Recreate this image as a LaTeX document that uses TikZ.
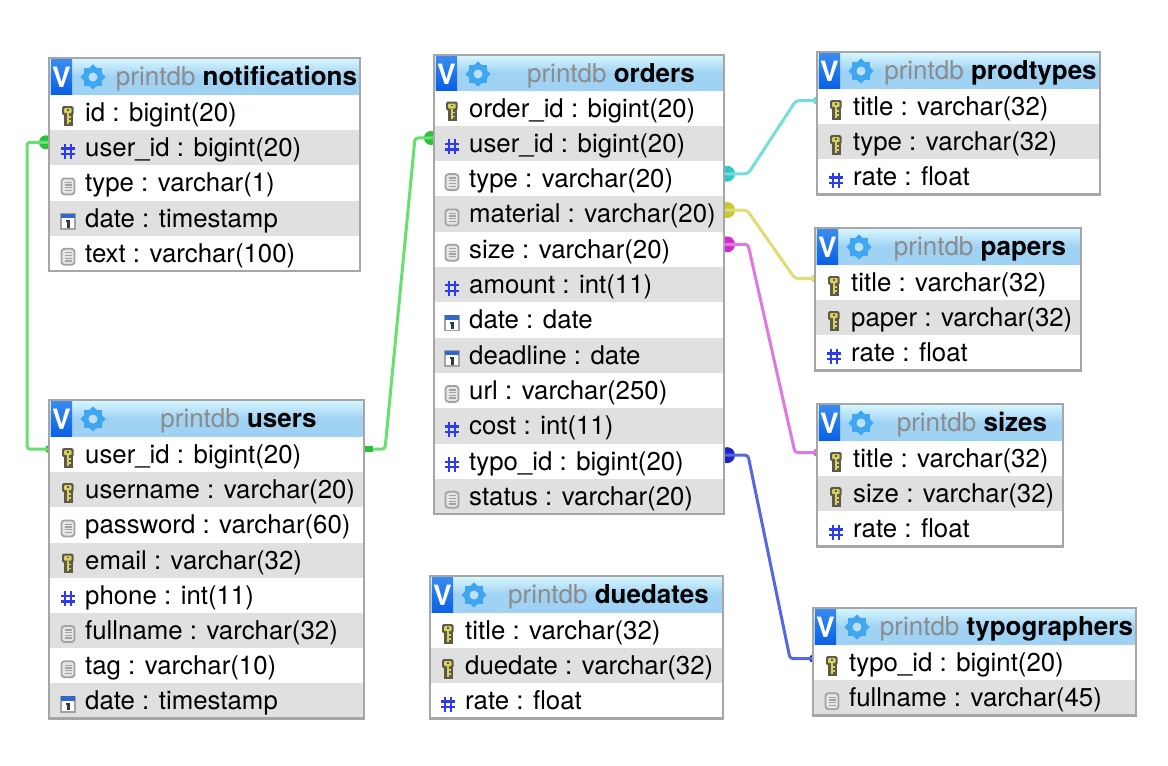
\documentclass[tikz,border=0pt]{standalone}
\usepackage{fontspec}
\setmainfont{TeX Gyre Heros}
\usetikzlibrary{backgrounds,shapes.geometric}
\definecolor{bordergray}{HTML}{A6A6A6}
\definecolor{rowgray}{HTML}{E0E0E0}
\definecolor{titlegray}{HTML}{8C8C8C}
\definecolor{headtop}{HTML}{D8F8FF}
\definecolor{headbot}{HTML}{A0D2F4}
\definecolor{badgetop}{HTML}{3C8CF0}
\definecolor{badgebot}{HTML}{0860E4}
\definecolor{gearblue}{HTML}{3FA6F2}
\definecolor{keydark}{HTML}{5E5A48}
\definecolor{keygold}{HTML}{D8D060}
\definecolor{hashblue}{HTML}{2A3CEE}
\definecolor{docline}{HTML}{A2A2A2}
\definecolor{docfill}{HTML}{E6E6E6}
\definecolor{datebar}{HTML}{2F68C8}
\definecolor{dateone}{HTML}{30384A}
\definecolor{lgreen}{HTML}{66E06E}\definecolor{dgreen}{HTML}{2CBE3C}
\definecolor{lcyan}{HTML}{74DEDE}\definecolor{dcyan}{HTML}{2CC8C8}
\definecolor{lyellow}{HTML}{DEDE74}\definecolor{dyellow}{HTML}{C8C82C}
\definecolor{lmag}{HTML}{E276E2}\definecolor{dmag}{HTML}{D02CD0}
\definecolor{lblue}{HTML}{5468E2}\definecolor{dblue}{HTML}{1C24C4}
\tikzset{
  x=1pt,y=-1pt,
  rowtext/.style={anchor=base west,inner sep=0pt,font=\fontsize{25.8}{26}\selectfont,text=black},
  titletext/.style={anchor=base,inner sep=0pt,font=\fontsize{26}{26}\selectfont},
  rowbox/.style={inner sep=0pt,outer sep=0pt,anchor=north west},
  link/.style={line width=3pt,rounded corners=3pt,line join=round},
  pics/iconkey/.style={code={
    \fill[keydark,rounded corners=1.5pt] (-6,-10) rectangle (5.5,-1);
    \fill[keydark] (-4,-2) rectangle (5,9.5);
    \fill[keygold,rounded corners=1pt] (-4,-8) rectangle (3.5,-3);
    \fill[keydark] (-1.5,-7) rectangle (1.2,-5.5);
    \fill[keygold] (-1.5,-3) rectangle (1.2,7.5);
    \fill[keygold] (1.2,0) rectangle (3.2,1.6);
    \fill[keygold] (1.2,4) rectangle (3.2,5.6);
  }},
  pics/iconhash/.style={code={
    \draw[hashblue,line width=2.3pt]
      (-2.8,-7.5) -- (-2.8,7.5) (3.2,-7.5) -- (3.2,7.5)
      (-7,-2.8) -- (7,-2.8) (-7,2.8) -- (7,2.8);
  }},
  pics/icondoc/.style={code={
    \draw[docline,fill=docfill,line width=1.8pt,rounded corners=3pt] (-6.5,-8) rectangle (6.5,8);
    \draw[docline,line width=1.3pt] (-3.5,-4) -- (3.5,-4) (-3.5,-1.3) -- (3.5,-1.3) (-3.5,1.4) -- (3.5,1.4) (-3.5,4.1) -- (3.5,4.1);
  }},
  pics/icondate/.style={code={
    \draw[docline,fill=white,line width=1.3pt] (-7,-7.5) rectangle (7,7.5);
    \fill[datebar] (-7,-8) rectangle (7,-3.5);
    \fill[dateone] (-0.8,-1.5) rectangle (1.6,6);
    \fill[dateone] (-2.4,-1.5) rectangle (0,0.4);
  }},
}
\newcommand\hh{37}
\newcommand\rh{35.2}
\newcommand\rx{0}
% name, x, y, width, title, rows
\newcommand\dbtable[6]{%
  \pgfmathsetmacro\tx{#2}\pgfmathsetmacro\ty{#3}\pgfmathsetmacro\tw{#4}%
  \node[rowbox,minimum width=\tw pt,minimum height=\hh pt,top color=headtop,bottom color=headbot,middle color=headbot,shading angle=0] (#1-head) at (\tx,\ty) {};
  \node[rowbox,minimum width=21pt,minimum height=\hh pt,top color=badgetop,bottom color=badgebot] (#1-badge) at (\tx+2,\ty) {};
  \node[inner sep=0pt,text=white,font=\fontsize{28}{28}\bfseries\selectfont] (#1-v) at (\tx+12.5,\ty+19.5) {V};
  \node[star,star points=8,star point ratio=1.28,minimum size=25pt,inner sep=0pt,fill=gearblue] (#1-gear) at (\tx+44,\ty+19) {};
  \node[circle,minimum size=9pt,inner sep=0pt,fill=headbot!70!white] (#1-hole) at (\tx+44,\ty+19) {};
  \node[titletext] (#1-title) at (\tx+\tw/2+32,\ty+27) {\textcolor{titlegray}{printdb} \textbf{#5}};
  \foreach \ic/\txt [count=\n] in {#6} {
    \pgfmathsetmacro\ry{\ty+\hh+(\n-1)*\rh}
    \pgfmathparse{int(mod(\n,2))}
    \ifnum\pgfmathresult=0 \def\rc{rowgray}\else \def\rc{white}\fi
    \node[rowbox,minimum width=\tw pt,minimum height=\rh pt,fill=\rc] (#1-\n) at (\tx,\ry) {};
    \pic at (\tx+19+\rx,\ry+21) {icon\ic};
    \node[rowtext] (#1-\n-text) at (\tx+36+\rx,\ry+26.5) {\txt};
    \xdef\lastrow{\n}
  }
  \draw[bordergray,line width=2.4pt] (#1-head.north west) rectangle (#1-\lastrow.south east);
}
\begin{document}
\begin{tikzpicture}
\useasboundingbox (0,0) rectangle (1168,766);

\dbtable{notifications}{49}{58}{311}{notifications}{key/id : bigint(20),hash/user\_id : bigint(20),doc/type : varchar(1),date/date : timestamp,doc/text : varchar(100)}
\dbtable{users}{49}{400}{315}{users}{key/user\_id : bigint(20),key/username : varchar(20),doc/password : varchar(60),key/email : varchar(32),hash/phone : int(11),doc/fullname : varchar(32),doc/tag : varchar(10),date/date : timestamp}
\renewcommand\hh{35.5}\renewcommand\rh{35.3}\renewcommand\rx{-1}
\dbtable{orders}{434}{55}{290}{orders}{key/order\_id : bigint(20),hash/user\_id : bigint(20),doc/type : varchar(20),doc/material : varchar(20),doc/size : varchar(20),hash/amount : int(11),date/date : date,date/deadline : date,doc/url : varchar(250),hash/cost : int(11),hash/typo\_id : bigint(20),doc/status : varchar(20)}
\renewcommand\hh{37}\renewcommand\rh{35.2}\renewcommand\rx{0}
\dbtable{prodtypes}{817}{52}{283}{prodtypes}{key/title : varchar(32),key/type : varchar(32),hash/rate : float}
\dbtable{papers}{815}{228}{266}{papers}{key/title : varchar(32),key/paper : varchar(32),hash/rate : float}
\dbtable{sizes}{817}{404}{246}{sizes}{key/title : varchar(32),key/size : varchar(32),hash/rate : float}
\renewcommand\rx{-1}
\dbtable{duedates}{430}{576}{293}{duedates}{key/title : varchar(32),key/duedate : varchar(32),hash/rate : float}
\renewcommand\rx{0}
\dbtable{typographers}{813}{608}{323}{typographers}{key/typo\_id : bigint(20),doc/fullname : varchar(45)}

\begin{scope}[on background layer]
  \fill[white] (0,0) rectangle (1168,766);
  % dots at ends (partly hidden by the tables)
  \fill[dgreen] ([xshift=-3pt,yshift=5.5pt]notifications-2.west) circle (7);
  \fill[dgreen] ([xshift=-3pt,yshift=5.5pt]orders-2.west) circle (7);
  \fill[dgreen] ([yshift=5.5pt]users-1.west) circle (4);
  \fill[dgreen] ([xshift=1pt,yshift=8.5pt]users-1.east) rectangle ++(8,6);
  \fill[dcyan] ([xshift=3pt,yshift=5pt]orders-3.east) circle (8);
  \fill[dyellow] ([xshift=3pt,yshift=4pt]orders-4.east) circle (8);
  \fill[dmag] ([xshift=3pt,yshift=5pt]orders-5.east) circle (8);
  \fill[dblue] ([xshift=3pt,yshift=6pt]orders-11.east) circle (8);
  \fill[lcyan!60!dcyan] ([yshift=6pt]prodtypes-1.west) circle (4);
  \fill[lyellow!60!dyellow] ([yshift=4pt]papers-1.west) circle (4);
  \fill[lmag!60!dmag] ([yshift=6pt]sizes-1.west) circle (4);
  \fill[dblue] ([yshift=4pt]typographers-1.west) circle (4);
  % connectors
  \draw[link,lgreen] ([yshift=5.5pt]users-1.west) -- ++(-22,0) -- ([xshift=-22pt,yshift=5.5pt]notifications-2.west) -- ([yshift=5.5pt]notifications-2.west);
  \draw[link,lgreen] ([yshift=5.5pt]users-1.east) -- ++(21,0) -- ([xshift=-19pt,yshift=5.5pt]orders-2.west) -- ([yshift=5.5pt]orders-2.west);
  \draw[link,lcyan] ([yshift=5pt]orders-3.east) -- ++(24,0) -- ([xshift=-21pt,yshift=6pt]prodtypes-1.west) -- ([yshift=6pt]prodtypes-1.west);
  \draw[link,lyellow] ([yshift=4pt]orders-4.east) -- ++(23,0) -- ([xshift=-20pt,yshift=4pt]papers-1.west) -- ([yshift=4pt]papers-1.west);
  \draw[link,lmag] ([yshift=5pt]orders-5.east) -- ++(24,0) -- ([xshift=-22pt,yshift=6pt]sizes-1.west) -- ([yshift=6pt]sizes-1.west);
  \draw[link,lblue] ([yshift=6pt]orders-11.east) -- ++(24,0) -- ([xshift=-23pt,yshift=4pt]typographers-1.west) -- ([yshift=4pt]typographers-1.west);
  % small square stub drawn over the green connector
  \fill[dgreen] ([xshift=1pt,yshift=8.5pt]users-1.east) rectangle ++(8,6);
\end{scope}
\end{tikzpicture}
\end{document}
